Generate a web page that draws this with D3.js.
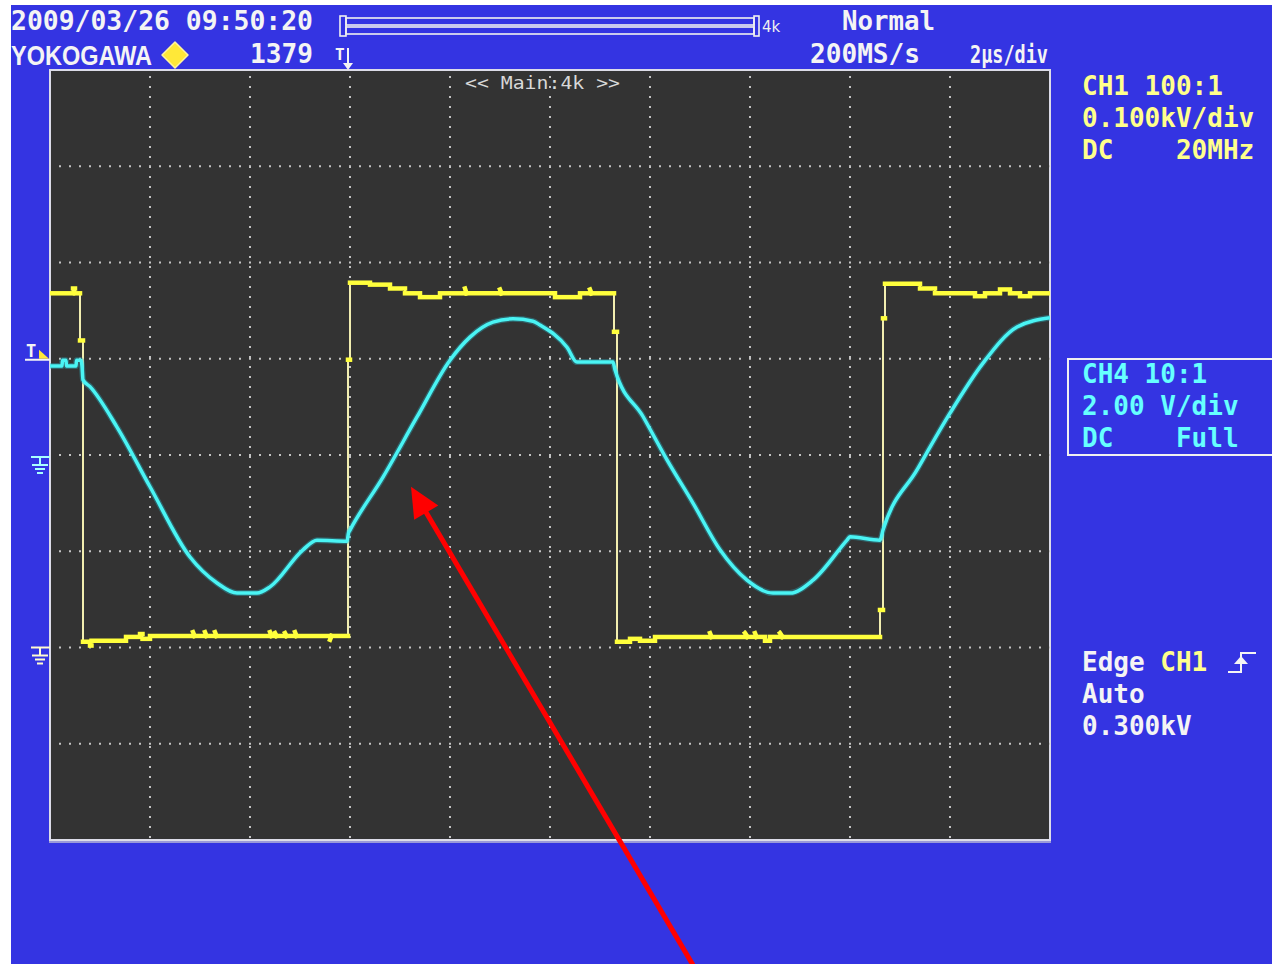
<!DOCTYPE html>
<html>
<head>
<meta charset="utf-8">
<script src="https://cdn.jsdelivr.net/npm/d3@7"></script>
<style>
html, body { margin: 0; padding: 0; background: #fff; }
svg { display: block; }
text { font-family: "DejaVu Sans Mono", monospace; font-weight: bold; }
</style>
</head>
<body>
<div id="scope"></div>
<script>
// time in µs, CH1 in volts (100:1), CH4 in volts (10:1)
var ch1Trace = [
  [0.00,368],[0.46,368],[0.46,373],[0.50,373],[0.50,368],[0.60,368],
  [0.60,319],[0.66,319],[0.66,6],
  [0.80,6],[0.80,2],[0.83,2],[0.83,7],
  [1.52,7],[1.52,11],[1.80,11],[1.80,14],[1.85,14],[1.85,9],[2.00,9],[2.00,12],
  [2.86,12],[2.86,16],[2.89,12],[3.10,12],[3.10,16],[3.13,12],[3.30,12],[3.30,16],[3.33,12],
  [4.40,12],[4.40,16],[4.43,12],[4.50,12],[4.50,15],[4.53,12],[4.70,12],[4.70,15],[4.73,12],
  [4.90,12],[4.90,16],[4.93,12],[5.60,12],[5.60,8],[5.63,12],[5.96,12],
  [5.96,299],[6.00,299],[6.00,379],[6.40,379],[6.40,377],[6.80,377],[6.80,373],[7.10,373],[7.10,368],
  [7.40,368],[7.40,364],[7.80,364],[7.80,368],[8.30,368],[8.30,373],[8.33,368],
  [9.00,368],[9.00,372],[9.03,368],[10.10,368],[10.10,364],[10.60,364],[10.60,368],
  [10.80,368],[10.80,372],[10.83,368],[11.28,368],
  [11.28,328],[11.34,328],[11.34,6],
  [11.60,6],[11.60,9],[11.80,9],[11.80,7],[12.10,7],[12.10,11],
  [13.20,11],[13.20,15],[13.23,11],[13.90,11],[13.90,15],[13.95,11],[14.10,11],[14.10,15],[14.13,11],
  [14.30,11],[14.30,7],[14.40,7],[14.40,11],[14.60,11],[14.60,15],[14.65,11],[16.60,11],
  [16.60,39],[16.66,39],[16.66,342],[16.70,342],[16.70,378],[17.40,378],[17.40,373],[17.70,373],[17.70,368],
  [18.50,368],[18.50,365],[18.70,365],[18.70,368],[19.00,368],[19.00,372],[19.20,372],[19.20,368],
  [19.40,368],[19.40,365],[19.60,365],[19.60,368],[20.00,368]
];

var ch4Trace = [
  [0.00,1.85],[0.24,1.85],[0.25,1.97],[0.32,1.97],[0.33,1.85],[0.52,1.85],[0.53,1.97],[0.62,1.97],[0.64,1.85],
  [0.66,1.56],[0.80,1.42],[1.34,0.58],[2.00,-0.66],[2.80,-2.12],[3.34,-2.66],[3.74,-2.87],[4.14,-2.87],
  [4.40,-2.74],[5.06,-1.97],[5.34,-1.77],[5.94,-1.79],
  [5.97,-1.62],[6.00,-1.56],[6.66,-0.46],[7.34,0.79],[8.00,1.97],[8.40,2.45],[8.86,2.76],[9.26,2.83],
  [9.66,2.78],[9.80,2.70],[10.34,2.24],[10.54,1.93],[11.26,1.93],
  [11.30,1.77],[11.86,0.80],[12.34,-0.10],[12.86,-1.00],[13.40,-1.97],[13.94,-2.60],[14.46,-2.87],
  [14.80,-2.87],[15.26,-2.60],[15.94,-1.77],[16.00,-1.70],[16.60,-1.77],
  [16.66,-1.56],[17.34,-0.31],[18.00,0.87],[18.66,1.91],[19.34,2.66],[20.00,2.85]
];

var timeTicks = d3.range(2, 20, 2);
var divTicks = d3.range(-3, 4, 1);
var ch1Info = ["CH1 100:1", "0.100kV/div", "DC    20MHz"];
var ch4Info = ["CH4 10:1", "2.00 V/div", "DC    Full"];
var trigInfo = ["Auto", "0.300kV"];
var trigLevel = 300, trigTime = 5.96;
var pointer = [[7.22, -0.66], [12.86, -10.6]];   // red arrow, CH4 units

var W = 1272, H = 964,
    pL = 50, pT = 70, pW = 1000, pH = 770,
    blue = "#3434e2", yel = "#ffff3c", cyan = "#4af4f4";

var x   = d3.scaleLinear().domain([0, 20]).range([pL, pL + pW]),
    div = d3.scaleLinear().domain([-4, 4]).range([pT + pH, pT]),
    y1  = d3.scaleLinear().domain([-200, 600]).range([pT + pH, pT]),
    y4  = d3.scaleLinear().domain([-8, 8]).range([pT + pH, pT]);

var svg = d3.select("#scope").append("svg")
    .attr("width", W).attr("height", H);

svg.append("rect").attr("x", 11).attr("y", 5)
  .attr("width", W - 11).attr("height", H - 5).attr("fill", blue);

// screen
svg.append("rect").attr("x", pL).attr("y", pT + 2)
  .attr("width", pW).attr("height", pH)
  .attr("fill", "none").attr("stroke", "#9a9ad8").attr("stroke-width", 2);
svg.append("rect").attr("x", pL).attr("y", pT)
  .attr("width", pW).attr("height", pH)
  .attr("fill", "#333333").attr("stroke", "#dcdce8").attr("stroke-width", 2);

var grid = svg.append("g")
    .attr("stroke", "#c4c4c4").attr("stroke-width", 2)
    .attr("stroke-dasharray", "2,8");

grid.selectAll(".vg").data(timeTicks).enter().append("line")
  .attr("x1", function(d) { return x(d); }).attr("x2", function(d) { return x(d); })
  .attr("y1", pT + 6).attr("y2", pT + pH);
grid.selectAll(".hg").data(divTicks).enter().append("line")
  .attr("x1", pL + 9).attr("x2", pL + pW)
  .attr("y1", function(d) { return div(d); }).attr("y2", function(d) { return div(d); });

svg.append("text").attr("x", 465).attr("y", 89)
  .attr("textLength", 155).attr("lengthAdjust", "spacingAndGlyphs")
  .style("font-size", "17px").style("font-weight", "normal")
  .attr("fill", "#d8d8d8").text("<< Main:4k >>");

// traces
svg.append("clipPath").attr("id", "screen").append("rect")
  .attr("x", pL).attr("y", pT).attr("width", pW).attr("height", pH);

var traces = svg.append("g").attr("clip-path", "url(#screen)");

var line1 = d3.line().x(function(d) { return x(d[0]); }).y(function(d) { return y1(d[1]); });
var line4 = d3.line().x(function(d) { return x(d[0]); }).y(function(d) { return y4(d[1]); })
    .curve(d3.curveMonotoneX);

traces.append("path").attr("d", line1(ch1Trace))
  .attr("fill", "none").attr("stroke", "#f2eeb0").attr("stroke-width", 2);

var flats = d3.pairs(ch1Trace).filter(function(p) { return p[1][0] > p[0][0]; });
traces.selectAll(".flat").data(flats).enter().append("line")
  .attr("x1", function(p) { return x(p[0][0]); })
  .attr("x2", function(p) { return x(p[1][0]); })
  .attr("y1", function(p) { return y1(p[0][1]); })
  .attr("y2", function(p) { return y1(p[1][1]); })
  .attr("stroke", yel).attr("stroke-width", 4.5).attr("stroke-linecap", "square");

traces.append("path").attr("d", line4(ch4Trace))
  .attr("fill", "none").attr("stroke", "#2ab0c0").attr("stroke-opacity", 0.4)
  .attr("stroke-width", 6).attr("stroke-linejoin", "round");
traces.append("path").attr("d", line4(ch4Trace))
  .attr("fill", "none").attr("stroke", cyan)
  .attr("stroke-width", 3.5).attr("stroke-linejoin", "round");

// header
function label(tx, ty, str, col, size, len) {
  var t = svg.append("text").attr("x", tx).attr("y", ty)
    .attr("fill", col).style("font-size", (size || 26) + "px").text(str);
  if (len) t.attr("textLength", len).attr("lengthAdjust", "spacingAndGlyphs");
  return t;
}

label(11, 30, "2009/03/26 09:50:20", "#f4f4f4", 26, 302);
label(11, 65, "YOKOGAWA", "#f4f4f4", 27, 141)
  .style("font-family", "'Liberation Sans', Arial, sans-serif");
svg.append("path").attr("d", "M175,42 L188,55 L175,68 L162,55 Z")
  .attr("fill", "#ffe838").attr("stroke", "#fff4a0").attr("stroke-width", 1.5)
  .attr("stroke-linejoin", "round");
label(313, 63, "1379", "#f4f4f4", 26, 63).attr("text-anchor", "end");

// record length bar
var bar = svg.append("g").attr("fill", "none").attr("stroke", "#f0f0f0").attr("stroke-width", 1.6);
bar.append("rect").attr("x", 340).attr("y", 16).attr("width", 6).attr("height", 20);
bar.append("rect").attr("x", 346).attr("y", 18).attr("width", 408).attr("height", 7);
bar.append("rect").attr("x", 346).attr("y", 27).attr("width", 408).attr("height", 7);
bar.append("rect").attr("x", 754).attr("y", 16).attr("width", 5).attr("height", 20);
label(762, 32, "4k", "#f0f0f0", 15).style("font-weight", "normal")
  .style("font-family", "'DejaVu Sans', sans-serif");

label(842, 30, "Normal", "#f4f4f4", 26, 93);
label(810, 63, "200MS/s", "#f4f4f4", 26, 110);
label(970, 63, "2µs/div", "#f4f4f4", 24, 78);

// trigger position marker
var tx0 = x(trigTime);
label(tx0 - 13, 60, "T", "#f4f4f4", 16);
svg.append("line").attr("x1", tx0).attr("x2", tx0).attr("y1", 48).attr("y2", 64)
  .attr("stroke", "#f4f4f4").attr("stroke-width", 2);
svg.append("path").attr("d", "M" + (tx0 - 5) + ",63 L" + (tx0 + 5) + ",63 L" + tx0 + ",70 Z")
  .attr("fill", "#f4f4f4");

// trigger level marker
var ty0 = y1(trigLevel);
label(26, ty0 - 2, "T", "#f4f4f4", 17);
svg.append("line").attr("x1", 25).attr("x2", pL).attr("y1", ty0 + 1).attr("y2", ty0 + 1)
  .attr("stroke", "#f4f4f4").attr("stroke-width", 2);
svg.append("path").attr("d", "M39," + (ty0 - 9) + " L49," + ty0 + " L39," + ty0 + " Z")
  .attr("fill", "#ffe838");

// ground markers
function ground(gy, col) {
  var g = svg.append("g").attr("stroke", col).attr("stroke-width", 2);
  g.append("line").attr("x1", 31).attr("x2", pL).attr("y1", gy).attr("y2", gy);
  g.append("line").attr("x1", 40).attr("x2", 40).attr("y1", gy).attr("y2", gy + 8);
  g.append("line").attr("x1", 32).attr("x2", 48).attr("y1", gy + 8).attr("y2", gy + 8);
  g.append("line").attr("x1", 35).attr("x2", 45).attr("y1", gy + 12).attr("y2", gy + 12);
  g.append("line").attr("x1", 37).attr("x2", 43).attr("y1", gy + 16).attr("y2", gy + 16);
}
ground(y4(0) + 2, "#a8ffff");
ground(y1(0), "#fffbd0");

// channel panels
svg.selectAll(".c1").data(ch1Info).enter().append("text")
  .attr("x", 1082).attr("y", function(d, i) { return 95 + i * 32; })
  .attr("fill", "#ffff8c").style("font-size", "26px")
  .attr("xml:space", "preserve").text(function(d) { return d; });

svg.append("rect").attr("x", 1068).attr("y", 359).attr("width", 210).attr("height", 96)
  .attr("fill", "none").attr("stroke", "#f0f0f0").attr("stroke-width", 2);
svg.selectAll(".c4").data(ch4Info).enter().append("text")
  .attr("x", 1082).attr("y", function(d, i) { return 383 + i * 32; })
  .attr("fill", "#66ffff").style("font-size", "26px")
  .attr("xml:space", "preserve").text(function(d) { return d; });

var edge = svg.append("text").attr("x", 1082).attr("y", 671).style("font-size", "26px")
  .attr("xml:space", "preserve");
edge.append("tspan").attr("fill", "#f4f4f4").text("Edge ");
edge.append("tspan").attr("fill", "#ffff8c").text("CH1");
svg.append("path").attr("d", "M1228,672 L1241,672 L1241,653 L1256,653")
  .attr("fill", "none").attr("stroke", "#f4f4f4").attr("stroke-width", 2);
svg.append("path").attr("d", "M1234,664 L1241,656 L1248,664 Z").attr("fill", "#f4f4f4");

svg.selectAll(".tg").data(trigInfo).enter().append("text")
  .attr("x", 1082).attr("y", function(d, i) { return 703 + i * 32; })
  .attr("fill", "#f4f4f4").style("font-size", "26px").text(function(d) { return d; });

// red pointer arrow
var ax0 = x(pointer[0][0]), ay0 = y4(pointer[0][1]),
    ax1 = x(pointer[1][0]), ay1 = y4(pointer[1][1]),
    len = Math.hypot(ax1 - ax0, ay1 - ay0),
    ux = (ax1 - ax0) / len, uy = (ay1 - ay0) / len,
    hl = 30, hw = 14;
svg.append("line")
  .attr("x1", ax0 + ux * 20).attr("y1", ay0 + uy * 20)
  .attr("x2", ax1).attr("y2", ay1)
  .attr("stroke", "#ff0000").attr("stroke-width", 5);
svg.append("path")
  .attr("d", "M" + ax0 + "," + ay0 +
        " L" + (ax0 + ux * hl - uy * hw) + "," + (ay0 + uy * hl + ux * hw) +
        " L" + (ax0 + ux * hl + uy * hw) + "," + (ay0 + uy * hl - ux * hw) + " Z")
  .attr("fill", "#ff0000");
</script>
</body>
</html>
